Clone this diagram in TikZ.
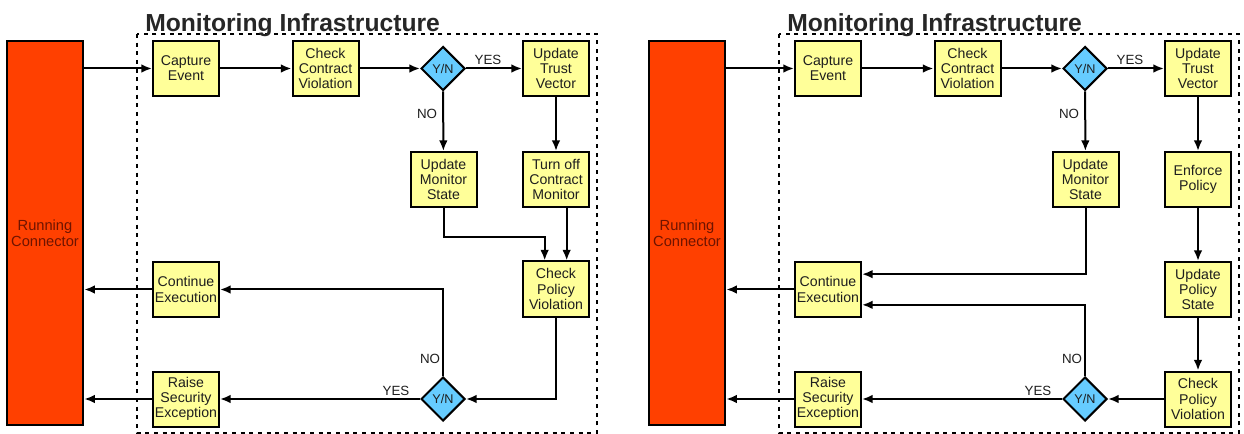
\documentclass[tikz,border=0pt]{standalone}
\usepackage{fontspec}
\setmainfont{Liberation Sans}
\usepackage{xcolor}
\usetikzlibrary{shapes.geometric,arrows.meta}

\definecolor{boxfill}{RGB}{255,255,153}
\definecolor{ynfill}{RGB}{102,204,255}
\definecolor{runfill}{RGB}{255,64,0}
\definecolor{runtext}{RGB}{110,20,0}
\definecolor{txt}{RGB}{30,30,30}

\begin{document}
\begin{tikzpicture}[x=0.75pt,y=-0.75pt,
  stage/.style={draw,line width=1.5pt,fill=boxfill,minimum width=49.5pt,minimum height=41.25pt,
    inner sep=0.5pt,align=center,text=txt,font=\fontsize{10.6}{11.4}\selectfont},
  yn/.style={draw,line width=1.5pt,fill=ynfill,shape=diamond,minimum width=33pt,minimum height=33pt,
    inner sep=0pt,text=txt,font=\fontsize{9.5}{10}\selectfont},
  run/.style={draw,line width=1.5pt,fill=runfill,minimum width=57pt,minimum height=288pt,
    align=center,text=runtext,font=\fontsize{11}{12}\selectfont},
  frame/.style={line width=1.6pt,dash pattern=on 3pt off 3.5pt},
  title/.style={font=\fontsize{18.5}{20}\selectfont\bfseries,text=black!85,inner sep=0pt},
  lab/.style={font=\fontsize{10}{11}\selectfont,text=txt,inner sep=1pt},
  flow/.style={line width=1.5pt,-{Latex[length=8pt,width=6.5pt]}}]

\useasboundingbox (0,0) rectangle (1244,434);

% both panels share most of the flow
\foreach \X/\s in {0/L,642/R}{
\draw[frame] (\X+137,34) rectangle (\X+597,433);
\node[title,anchor=base west] (title\s) at (\X+145,32) {Monitoring Infrastructure};
\node[run] (run\s) at (\X+45,233) {Running\\Connector};
\node[stage] (cap\s) at (\X+186,68.5) {Capture\\Event};
\node[stage] (chk\s) at (\X+325.5,68.5) {Check\\Contract\\Violation};
\node[yn] (dA\s) at (\X+443,68.5) {Y/N};
\node[stage] (tv\s) at (\X+556,68.5) {Update\\Trust\\Vector};
\node[stage] (ums\s) at (\X+443.5,179.5) {Update\\Monitor\\State};
\node[stage] (ce\s) at (\X+186,289.5) {Continue\\Execution};
\node[stage] (rse\s) at (\X+186,399) {Raise\\Security\\Exception};
\node[yn] (dB\s) at (\X+443,399) {Y/N};

\node[lab] (yesA\s) at (\X+488,60) {YES};
\node[lab] (noA\s) at (\X+427,114) {NO};
\node[lab] (noB\s) at (\X+430,359) {NO};
\node[lab] (yesB\s) at (\X+396,391) {YES};

\draw[flow] (run\s.east |- cap\s.west) -- (cap\s.west);
\draw[flow] (cap\s) -- (chk\s);
\draw[flow] (chk\s) -- (dA\s);
\draw[flow] (dA\s) -- (tv\s);
\draw[flow] (dA\s) -- (ums\s);
\draw[flow] (dB\s) -- (rse\s);
\draw[flow] (ce\s.west) -- (ce\s.west -| run\s.east);
\draw[flow] (rse\s.west) -- (rse\s.west -| run\s.east);
}

% left panel
\node[stage] (toff) at (556,179.5) {Turn off\\Contract\\Monitor};
\node[stage] (cpvL) at (556,289) {Check\\Policy\\Violation};
\draw[flow] (tvL) -- (toff);
\draw[flow] (umsL.south) -- ++(0,29) -| ([xshift=-8.5pt]cpvL.north);
\draw[flow] ([xshift=8pt]toff.south) -- ([xshift=8pt]cpvL.north);
\draw[flow] (cpvL.south) |- (dBL.east);
\draw[flow] (dBL.north) |- (ceL.east);

% right panel
\node[stage] (ep) at (1198,179.5) {Enforce\\Policy};
\node[stage] (ups) at (1198,289.5) {Update\\Policy\\State};
\node[stage] (cpvR) at (1198,399) {Check\\Policy\\Violation};
\draw[flow] (tvR) -- (ep);
\draw[flow] (ep) -- (ups);
\draw[flow] (ups) -- (cpvR);
\draw[flow] (cpvR) -- (dBR);
\draw[flow] (umsR.south) |- ([yshift=11.5pt]ceR.east);
\draw[flow] (dBR.north) |- ([yshift=-11.5pt]ceR.east);

\end{tikzpicture}
\end{document}
